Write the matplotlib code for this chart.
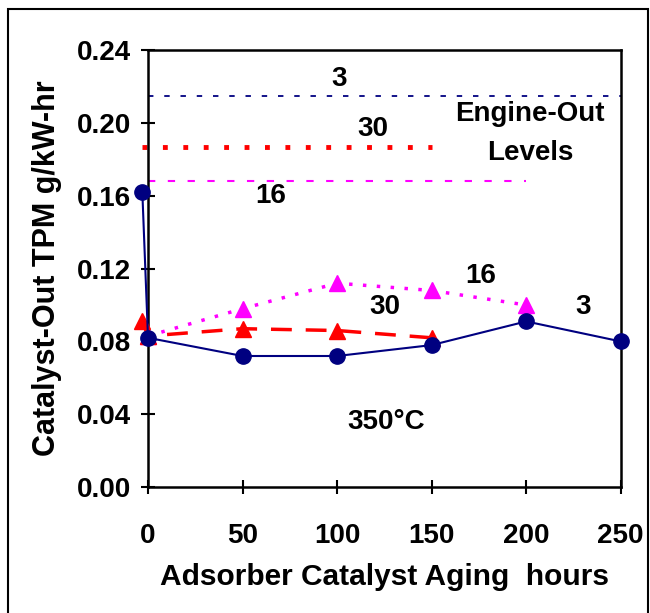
import matplotlib
matplotlib.use('Agg')
import matplotlib.pyplot as plt
from matplotlib.patches import Rectangle

plt.rcParams['font.family'] = ['Liberation Sans', 'DejaVu Sans']
plt.rcParams['font.weight'] = 'bold'

# Data
hours_3 = [-3, 0, 50, 100, 150, 200, 250]
tpm_3 = [0.162, 0.082, 0.072, 0.072, 0.078, 0.091, 0.080]

hours_30 = [-3, 0, 50, 100, 150]
tpm_30 = [0.091, 0.083, 0.087, 0.086, 0.082]

hours_16 = [0, 50, 100, 150, 200]
tpm_16 = [0.083, 0.098, 0.112, 0.108, 0.100]

# engine-out levels: value, x-extent
eo_3 = (0.215, [0, 250])
eo_30 = (0.187, [-3, 150])
eo_16 = (0.168, [0, 200])

fig = plt.figure(figsize=(6.5, 6.13), dpi=100)
ax = fig.add_axes([0.2277, 0.2055, 0.955 - 0.2277, 0.918 - 0.2055])

navy = '#000080'
red = '#FF0000'
mag = '#FF00FF'

# engine-out horizontal lines
ax.plot(eo_3[1], [eo_3[0]] * 2, color=navy, lw=1.3, linestyle=(0, (3, 6)), clip_on=False)
ax.plot(eo_30[1], [eo_30[0]] * 2, color=red, lw=3.5, linestyle=(0, (1, 3.2)), clip_on=False)
ax.plot(eo_16[1], [eo_16[0]] * 2, color=mag, lw=1.5, linestyle=(0, (3.5, 6)), clip_on=False)

# series
ax.plot(hours_16, tpm_16, color=mag, lw=2.5, linestyle=(0, (1, 3)), marker='^',
        markersize=12, markeredgecolor=mag, zorder=3, clip_on=False)
ax.plot(hours_30, tpm_30, color=red, lw=2.5, linestyle=(0, (6, 4)), marker='^',
        markersize=12, markeredgecolor=red, zorder=4, clip_on=False)
ax.plot(hours_3, tpm_3, color=navy, lw=1.5, linestyle='-', marker='o',
        markersize=11, markeredgecolor=navy, zorder=5, clip_on=False)

ax.set_xlim(0, 250)
ax.set_ylim(0, 0.24)
ax.set_xticks([0, 50, 100, 150, 200, 250])
ax.set_yticks([0.00, 0.04, 0.08, 0.12, 0.16, 0.20, 0.24])
ax.set_yticklabels(['0.00', '0.04', '0.08', '0.12', '0.16', '0.20', '0.24'])
ax.tick_params(axis='both', direction='inout', length=10, width=1.5, labelsize=20)
ax.tick_params(axis='x', pad=21)
ax.tick_params(axis='y', pad=7)
for lab in ax.get_xticklabels() + ax.get_yticklabels():
    lab.set_fontweight('bold')
for sp in ax.spines.values():
    sp.set_linewidth(1.8)

ax.set_xlabel('Adsorber Catalyst Aging  hours', fontsize=21.5, fontweight='bold', labelpad=10)
ax.set_ylabel('Catalyst-Out TPM g/kW-hr', fontsize=22, fontweight='bold', labelpad=11)

# annotations
txt = dict(fontsize=20, fontweight='bold', ha='center', va='center')
ax.text(101, 0.224, '3', **txt)
ax.text(119, 0.197, '30', **txt)
ax.text(65, 0.160, '16', **txt)
ax.text(202, 0.1945, 'Engine-Out\nLevels', linespacing=1.65, **txt)
ax.text(176, 0.116, '16', **txt)
ax.text(125, 0.099, '30', **txt)
ax.text(230, 0.099, '3', **txt)
ax.text(126, 0.036, '350°C', **txt)

# figure frame
fig.patches.append(Rectangle((0.012, -0.01), 0.985, 0.995, transform=fig.transFigure,
                             fill=False, edgecolor='black', linewidth=1.5))

fig.savefig('out.png', dpi=100, facecolor='white')
